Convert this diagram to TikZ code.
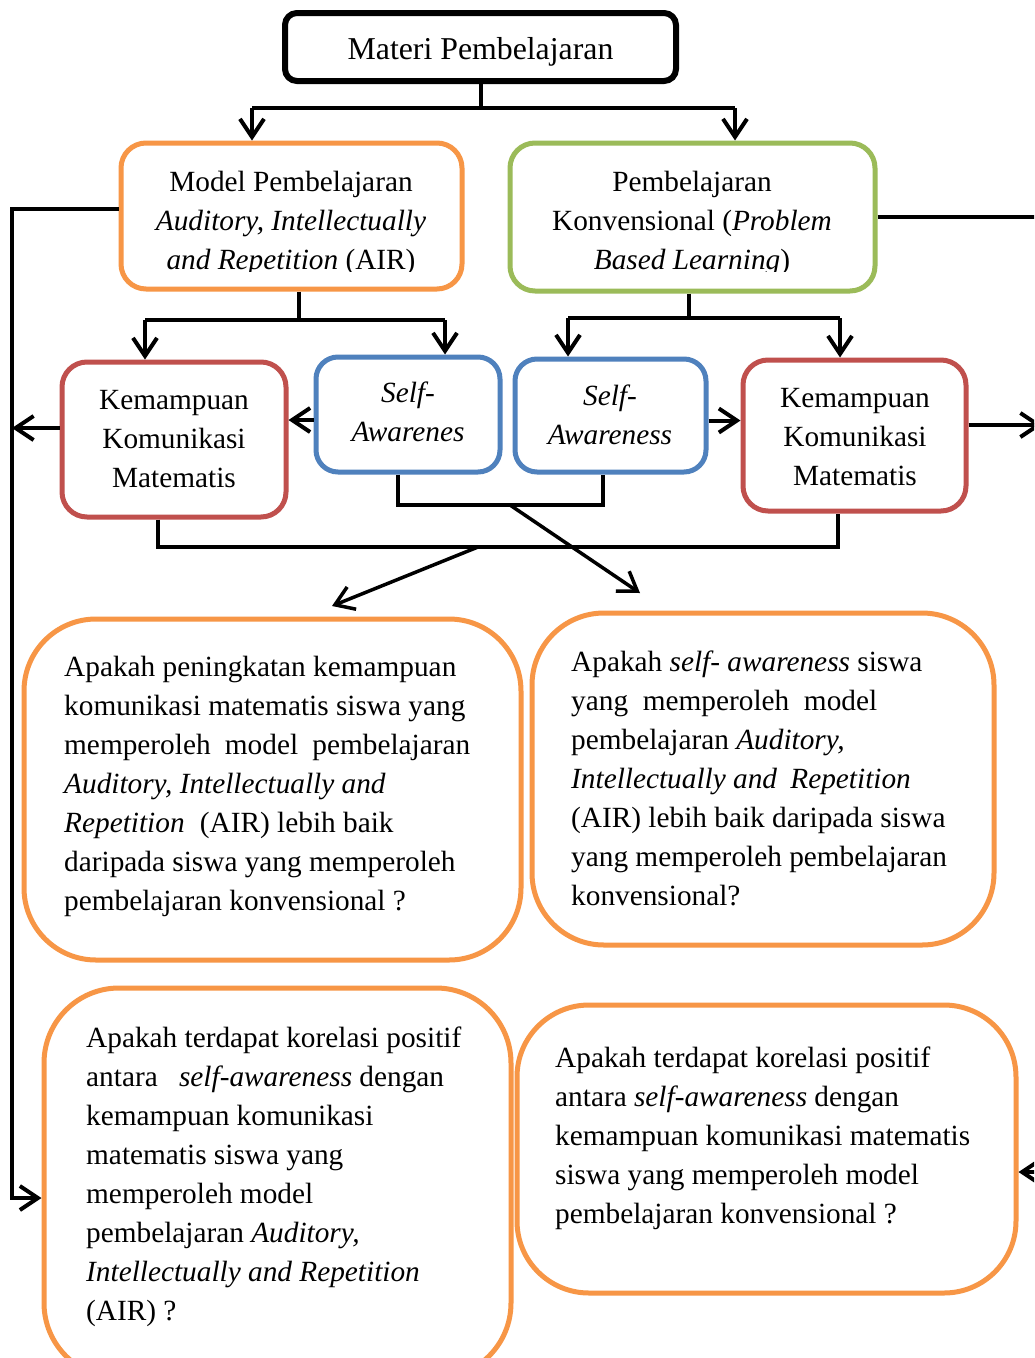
\documentclass[tikz,border=0pt]{standalone}
\usepackage{fontspec}
\setmainfont{Liberation Serif}
\usetikzlibrary{arrows.meta}
\definecolor{cOrange}{HTML}{F79646}
\definecolor{cGreen}{HTML}{9BBB59}
\definecolor{cRed}{HTML}{C0504D}
\definecolor{cBlue}{HTML}{4F81BD}
\newcommand\qfs{\fontsize{29.3}{39}\selectfont}
\newcommand\tfs{\fontsize{31.8}{39}\selectfont}
\begin{document}
\begin{tikzpicture}[x=1pt,y=-1pt,
  bx/.style={draw=#1, line width=5pt, inner sep=0pt, fill=white, rectangle},
  ln/.style={line width=4pt},
  arr/.style={line width=4pt, -{Straight Barb[length=18pt,width=24pt]}},
  ctxt/.style={inner sep=0pt, anchor=base},
  ltxt/.style={inner sep=0pt, anchor=base west}]
\useasboundingbox (0,0) rectangle (1034,1358);
\fill[white] (0,0) rectangle (1034,1358);
\clip (0,0) rectangle (1034,1358);

% boxes
\node[bx=black, line width=6pt, rounded corners=12, minimum width=391, minimum height=68] (title) at (480.5,47) {};
\node[bx=cOrange, rounded corners=25, minimum width=341, minimum height=146] (model) at (291.5,216) {};
\node[bx=cGreen, rounded corners=25, minimum width=365, minimum height=148] (konv) at (692.5,217) {};
\node[bx=cRed, rounded corners=25, minimum width=224, minimum height=155] (redL) at (174,439.5) {};
\node[bx=cBlue, rounded corners=22, minimum width=184, minimum height=115] (blueL) at (408,414.5) {};
\node[bx=cBlue, rounded corners=22, minimum width=191, minimum height=113] (blueR) at (610.5,415.5) {};
\node[bx=cRed, rounded corners=25, minimum width=223, minimum height=151] (redR) at (854.5,435.5) {};
\node[bx=cOrange, rounded corners=72, minimum width=497, minimum height=341] (q1) at (272.5,789.5) {};
\node[bx=cOrange, rounded corners=72, minimum width=462, minimum height=332] (q2) at (763,779) {};
\node[bx=cOrange, rounded corners=75, minimum width=467, minimum height=390] (q3) at (277.5,1183) {};
\node[bx=cOrange, rounded corners=72, minimum width=499, minimum height=288] (q4) at (766.5,1149) {};

% texts
\node[ctxt] (titleT) at (480.5,59) {\tfs Materi Pembelajaran};
\begin{scope}
\clip (0,0) rectangle (1034,271);
\node[ctxt] (modelT) at (291,191) {\parbox[t]{330pt}{\qfs\centering Model Pembelajaran\\ \textit{Auditory, Intellectually}\\ \textit{and Repetition} (AIR)}};
\node[ctxt] (konvT) at (692,191) {\parbox[t]{360pt}{\qfs\centering Pembelajaran\\ Konvensional (\textit{Problem}\\ \textit{Based Learning})}};
\end{scope}
\node[ctxt] (redLT) at (174,409) {\parbox[t]{220pt}{\qfs\centering Kemampuan\\ Komunikasi\\ Matematis}};
\node[ctxt] (blueLT) at (408,402) {\parbox[t]{180pt}{\qfs\centering \textit{Self-}\\ \textit{Awarenes}}};
\node[ctxt] (blueRT) at (610,405) {\parbox[t]{185pt}{\qfs\centering \textit{Self-}\\ \textit{Awareness}}};
\node[ctxt] (redRT) at (855,407) {\parbox[t]{220pt}{\qfs\centering Kemampuan\\ Komunikasi\\ Matematis}};

\node[ltxt] (q1T) at (64,676) {\parbox[t]{450pt}{\qfs\raggedright
Apakah peningkatan kemampuan\\
komunikasi matematis siswa yang\\
\makebox[406pt][s]{memperoleh model pembelajaran}\\
\textit{Auditory, Intellectually and}\\
\textit{Repetition}\hspace{8pt} (AIR) lebih baik\\
daripada siswa yang memperoleh\\
pembelajaran konvensional ?}};
\node[ltxt] (q2T) at (571,671) {\parbox[t]{420pt}{\qfs\raggedright
Apakah \textit{self- awareness} siswa\\
\makebox[306pt][s]{yang memperoleh model}\\
pembelajaran \textit{Auditory,}\\
\textit{Intellectually and\hspace{6pt} Repetition}\\
(AIR) lebih baik daripada siswa\\
yang memperoleh pembelajaran\\
konvensional?}};
\node[ltxt] (q3T) at (86,1047) {\parbox[t]{420pt}{\qfs\raggedright
Apakah terdapat korelasi positif\\
antara\hspace{14pt} \textit{self-awareness} dengan\\
kemampuan komunikasi\\
matematis siswa yang\\
memperoleh model\\
pembelajaran \textit{Auditory,}\\
\textit{Intellectually and Repetition}\\
(AIR) ?}};
\node[ltxt] (q4T) at (555,1067) {\parbox[t]{450pt}{\qfs\raggedright
Apakah terdapat korelasi positif\\
antara \textit{self-awareness} dengan\\
kemampuan komunikasi matematis\\
siswa yang memperoleh model\\
pembelajaran konvensional ?}};

% junction coordinates
\coordinate (a1) at (252,108);
\coordinate (a2) at (735,108);
\coordinate (b1) at (145,320);
\coordinate (b2) at (445,320);
\coordinate (c1) at (568,318);
\coordinate (c2) at (840,318);
\coordinate (L) at (12,209);
\coordinate (L3) at (12,1198);
\coordinate (R) at (1042,216);
\coordinate (R3) at (1042,1172);
\coordinate (jb) at (510,505);
\coordinate (jr) at (478,547);
\coordinate (t1) at (640,593);
\coordinate (t2) at (332,606);

% top connectors
\draw[ln] (title.south) -- (title.south |- a1);
\draw[ln] (a1) -- (a2);
\draw[arr] (a1) -- (a1 |- model.north);
\draw[arr] (a2) -- (a2 |- konv.north);

\coordinate (ms) at ([xshift=7.5]model.south);
\draw[ln] (ms) -- (ms |- b1);
\draw[ln] (b1) -- (b2);
\draw[arr] (b1) -- (b1 |- redL.north);
\draw[arr] (b2) -- (b2 |- blueL.north);

\coordinate (ks) at ([xshift=-3.5]konv.south);
\draw[ln] (ks) -- (ks |- c1);
\draw[ln] (c1) -- (c2);
\draw[arr] (c1) -- (c1 |- blueR.north);
\draw[arr] (c2) -- (c2 |- redR.north);

% side arrows
\coordinate (bl) at ([yshift=-5.5]blueL.west);
\draw[arr] (bl) -- (bl -| redL.east);
\coordinate (br) at ([yshift=-5]blueR.east);
\draw[arr] (br) -- (br -| redR.west);
\coordinate (rl) at ([yshift=11.5]redL.west);
\draw[arr] (rl) -- (rl -| L);
\coordinate (rr) at ([yshift=10.5]redR.east);
\draw[arr] (rr) -- (rr -| R);

% outer loops
\coordinate (mw) at ([yshift=7]model.west);
\draw[arr] (mw) -- (mw -| L) -- (L3) -- (L3 -| q3.west);
\draw[arr] (konv.east) -- (konv.east -| R) -- (R3) -- (R3 -| q4.east);

% lower connectors
\coordinate (bls) at ([xshift=-10]blueL.south);
\coordinate (brs) at ([xshift=-7.5]blueR.south);
\draw[ln] (bls) -- (bls |- jb) -- (brs |- jb) -- (brs);
\draw[line width=3.5pt, -{Straight Barb[length=18pt,width=24pt]}] (jb) -- (t1);

\coordinate (rls) at ([xshift=-16]redL.south);
\coordinate (rrs) at ([xshift=-16.5]redR.south);
\draw[ln] (rls) -- (rls |- jr) -- (rrs |- jr) -- (rrs);
\draw[line width=3.5pt, -{Straight Barb[length=18pt,width=24pt]}] (jr) -- (t2);
\end{tikzpicture}
\end{document}
